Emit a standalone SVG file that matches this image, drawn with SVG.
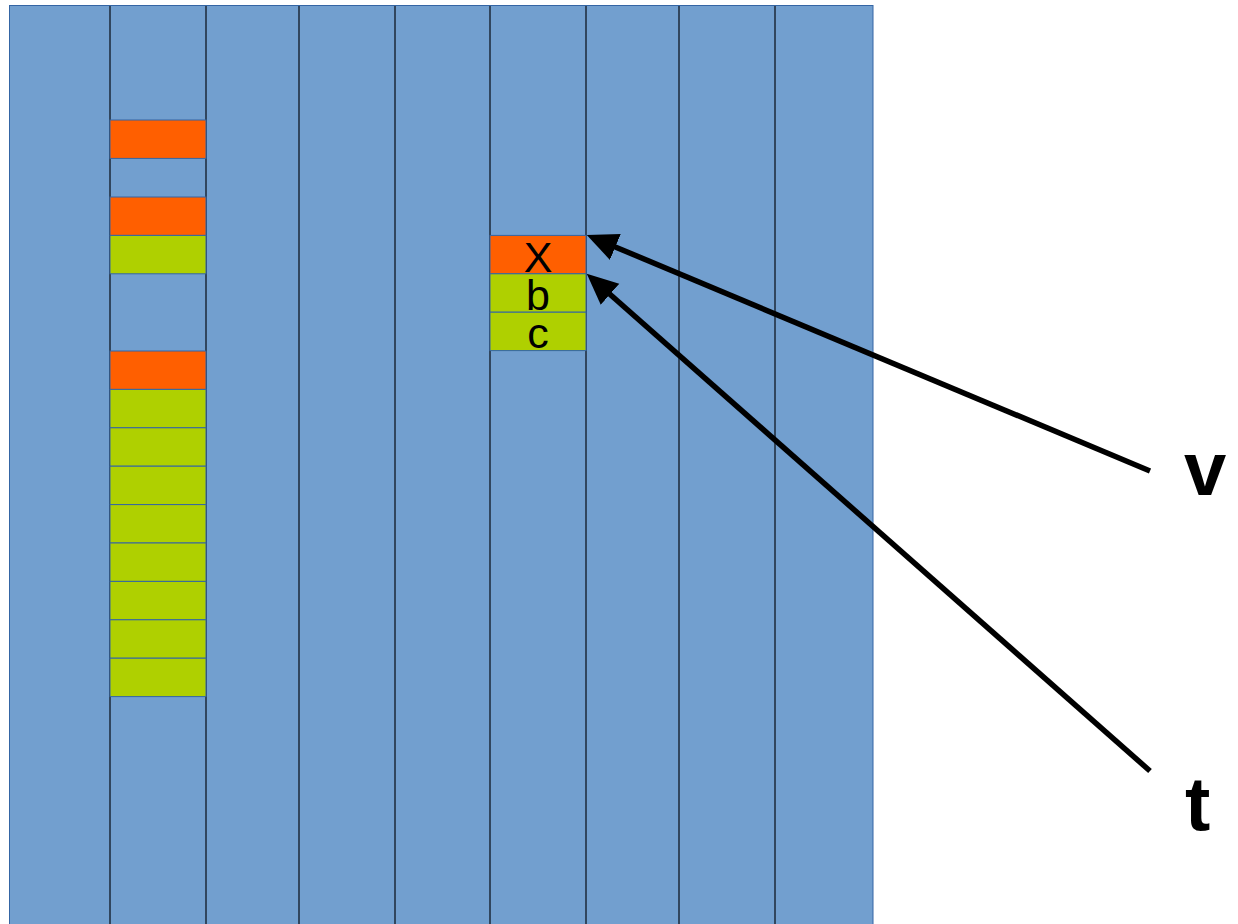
<svg xmlns="http://www.w3.org/2000/svg" width="1238" height="924" viewBox="0 0 1238 924">
  <style>
    .bg { fill: #729fcf; stroke: #3465a4; stroke-width: 1; }
    .sep { stroke: #1c2938; stroke-width: 1.5; }
    .hit { fill: #ff5f00; stroke: #3465a4; stroke-width: 1; }
    .ok { fill: #afd000; stroke: #3465a4; stroke-width: 1; }
    .cell-label { font-family: "Liberation Sans", Arial, sans-serif; font-size: 43px; fill: #000; text-anchor: middle; }
    .ptr-label { font-family: "Liberation Sans", Arial, sans-serif; font-size: 76px; font-weight: bold; fill: #000; }
    .ptr { stroke: #000; stroke-width: 5.5; fill: none; }
  </style>
  <defs>
    <marker id="head" markerUnits="userSpaceOnUse" markerWidth="32" markerHeight="30" viewBox="0 0 32 30" refX="2" refY="15" orient="auto">
      <path d="M0,1 L31,15 L0,29 z" fill="#000"/>
    </marker>
  </defs>

  <!-- memory area -->
  <g id="memory">
    <rect class="bg" x="9.5" y="5.5" width="863.5" height="925"/>
    <line class="sep" x1="110" y1="6" x2="110" y2="924"/>
    <line class="sep" x1="206" y1="6" x2="206" y2="924"/>
    <line class="sep" x1="299" y1="6" x2="299" y2="924"/>
    <line class="sep" x1="395" y1="6" x2="395" y2="924"/>
    <line class="sep" x1="490" y1="6" x2="490" y2="924"/>
    <line class="sep" x1="586" y1="6" x2="586" y2="924"/>
    <line class="sep" x1="679" y1="6" x2="679" y2="924"/>
    <line class="sep" x1="775" y1="6" x2="775" y2="924"/>
  </g>

  <!-- cells in the second column -->
  <g id="column-2">
    <rect class="hit" x="110" y="120" width="96" height="38.4"/>
    <rect class="hit" x="110" y="197" width="96" height="38.4"/>
    <rect class="ok" x="110" y="235.4" width="96" height="38.4"/>
    <rect class="hit" x="110" y="351" width="96" height="38.4"/>
    <rect class="ok" x="110" y="389.4" width="96" height="38.4"/>
    <rect class="ok" x="110" y="427.8" width="96" height="38.4"/>
    <rect class="ok" x="110" y="466.2" width="96" height="38.4"/>
    <rect class="ok" x="110" y="504.6" width="96" height="38.4"/>
    <rect class="ok" x="110" y="543" width="96" height="38.4"/>
    <rect class="ok" x="110" y="581.4" width="96" height="38.4"/>
    <rect class="ok" x="110" y="619.8" width="96" height="38.4"/>
    <rect class="ok" x="110" y="658.2" width="96" height="38.4"/>
  </g>

  <!-- labelled cells -->
  <g id="cell-x">
    <rect class="hit" x="490" y="235.4" width="96" height="38.4"/>
    <text class="cell-label" x="538" y="272">X</text>
  </g>
  <g id="cell-b">
    <rect class="ok" x="490" y="273.8" width="96" height="38.4"/>
    <text class="cell-label" x="538" y="310">b</text>
  </g>
  <g id="cell-c">
    <rect class="ok" x="490" y="312.2" width="96" height="38.4"/>
    <text class="cell-label" x="538" y="348">c</text>
  </g>

  <!-- pointer labels -->
  <g id="label-v">
    <text class="ptr-label" x="1184" y="495">v</text>
  </g>
  <g id="label-t">
    <text class="ptr-label" x="1185" y="830">t</text>
  </g>

  <!-- pointers -->
  <g id="connectors">
    <line class="ptr" x1="1150" y1="471" x2="613.5" y2="246.2" marker-end="url(#head)"/>
    <line class="ptr" x1="1150" y1="771" x2="608.5" y2="293" marker-end="url(#head)"/>
  </g>
</svg>
